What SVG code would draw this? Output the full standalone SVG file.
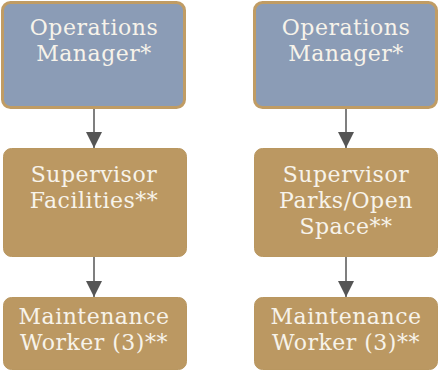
<svg xmlns="http://www.w3.org/2000/svg" width="440" height="371" viewBox="0 0 440 371">
<defs>
<style>
.top{fill:#8b9cb6;stroke:#c09c64;stroke-width:3}
.gold{fill:#bb9862;stroke:#b99760;stroke-width:1}
.t{font-family:"DejaVu Serif","Liberation Serif",serif;font-size:22px;letter-spacing:0.5px;fill:#f7f3ea;text-anchor:middle}
.c{stroke:#555;stroke-width:1.5;fill:none}
</style>
<marker id="ah" markerWidth="16" markerHeight="16" refX="16" refY="8" orient="auto" markerUnits="userSpaceOnUse">
<path d="M0,0 L16,8 L0,16 Z" fill="#555"/>
</marker>
</defs>
<rect width="440" height="371" fill="#fff"/>
<g id="connectors">
<line class="c" x1="94" y1="109" x2="94" y2="148" marker-end="url(#ah)"/>
<line class="c" x1="346" y1="109" x2="346" y2="148" marker-end="url(#ah)"/>
<line class="c" x1="94" y1="257" x2="94" y2="297" marker-end="url(#ah)"/>
<line class="c" x1="346" y1="257" x2="346" y2="297" marker-end="url(#ah)"/>
</g>
<g id="ops-left">
<rect class="top" x="2.5" y="2.5" width="182" height="105" rx="8"/>
<text class="t" x="94" y="35">Operations<tspan x="94" dy="25.8">Manager*</tspan></text>
</g>
<g id="ops-right">
<rect class="top" x="254.5" y="2.5" width="182" height="105" rx="8"/>
<text class="t" x="346" y="35">Operations<tspan x="346" dy="25.8">Manager*</tspan></text>
</g>
<g id="sup-facilities">
<rect class="gold" x="3.5" y="148.5" width="183" height="108" rx="8"/>
<text class="t" x="94" y="182">Supervisor<tspan x="94" dy="25.8">Facilities**</tspan></text>
</g>
<g id="sup-parks">
<rect class="gold" x="254.5" y="148.5" width="183" height="108" rx="8"/>
<text class="t" x="346" y="182">Supervisor<tspan x="346" dy="25.8">Parks/Open</tspan><tspan x="346" dy="25.8">Space**</tspan></text>
</g>
<g id="worker-left">
<rect class="gold" x="3.5" y="297.5" width="183" height="72" rx="8"/>
<text class="t" x="94" y="324">Maintenance<tspan x="94" dy="25.8">Worker (3)**</tspan></text>
</g>
<g id="worker-right">
<rect class="gold" x="254.5" y="297.5" width="183" height="72" rx="8"/>
<text class="t" x="346" y="324">Maintenance<tspan x="346" dy="25.8">Worker (3)**</tspan></text>
</g>
</svg>
